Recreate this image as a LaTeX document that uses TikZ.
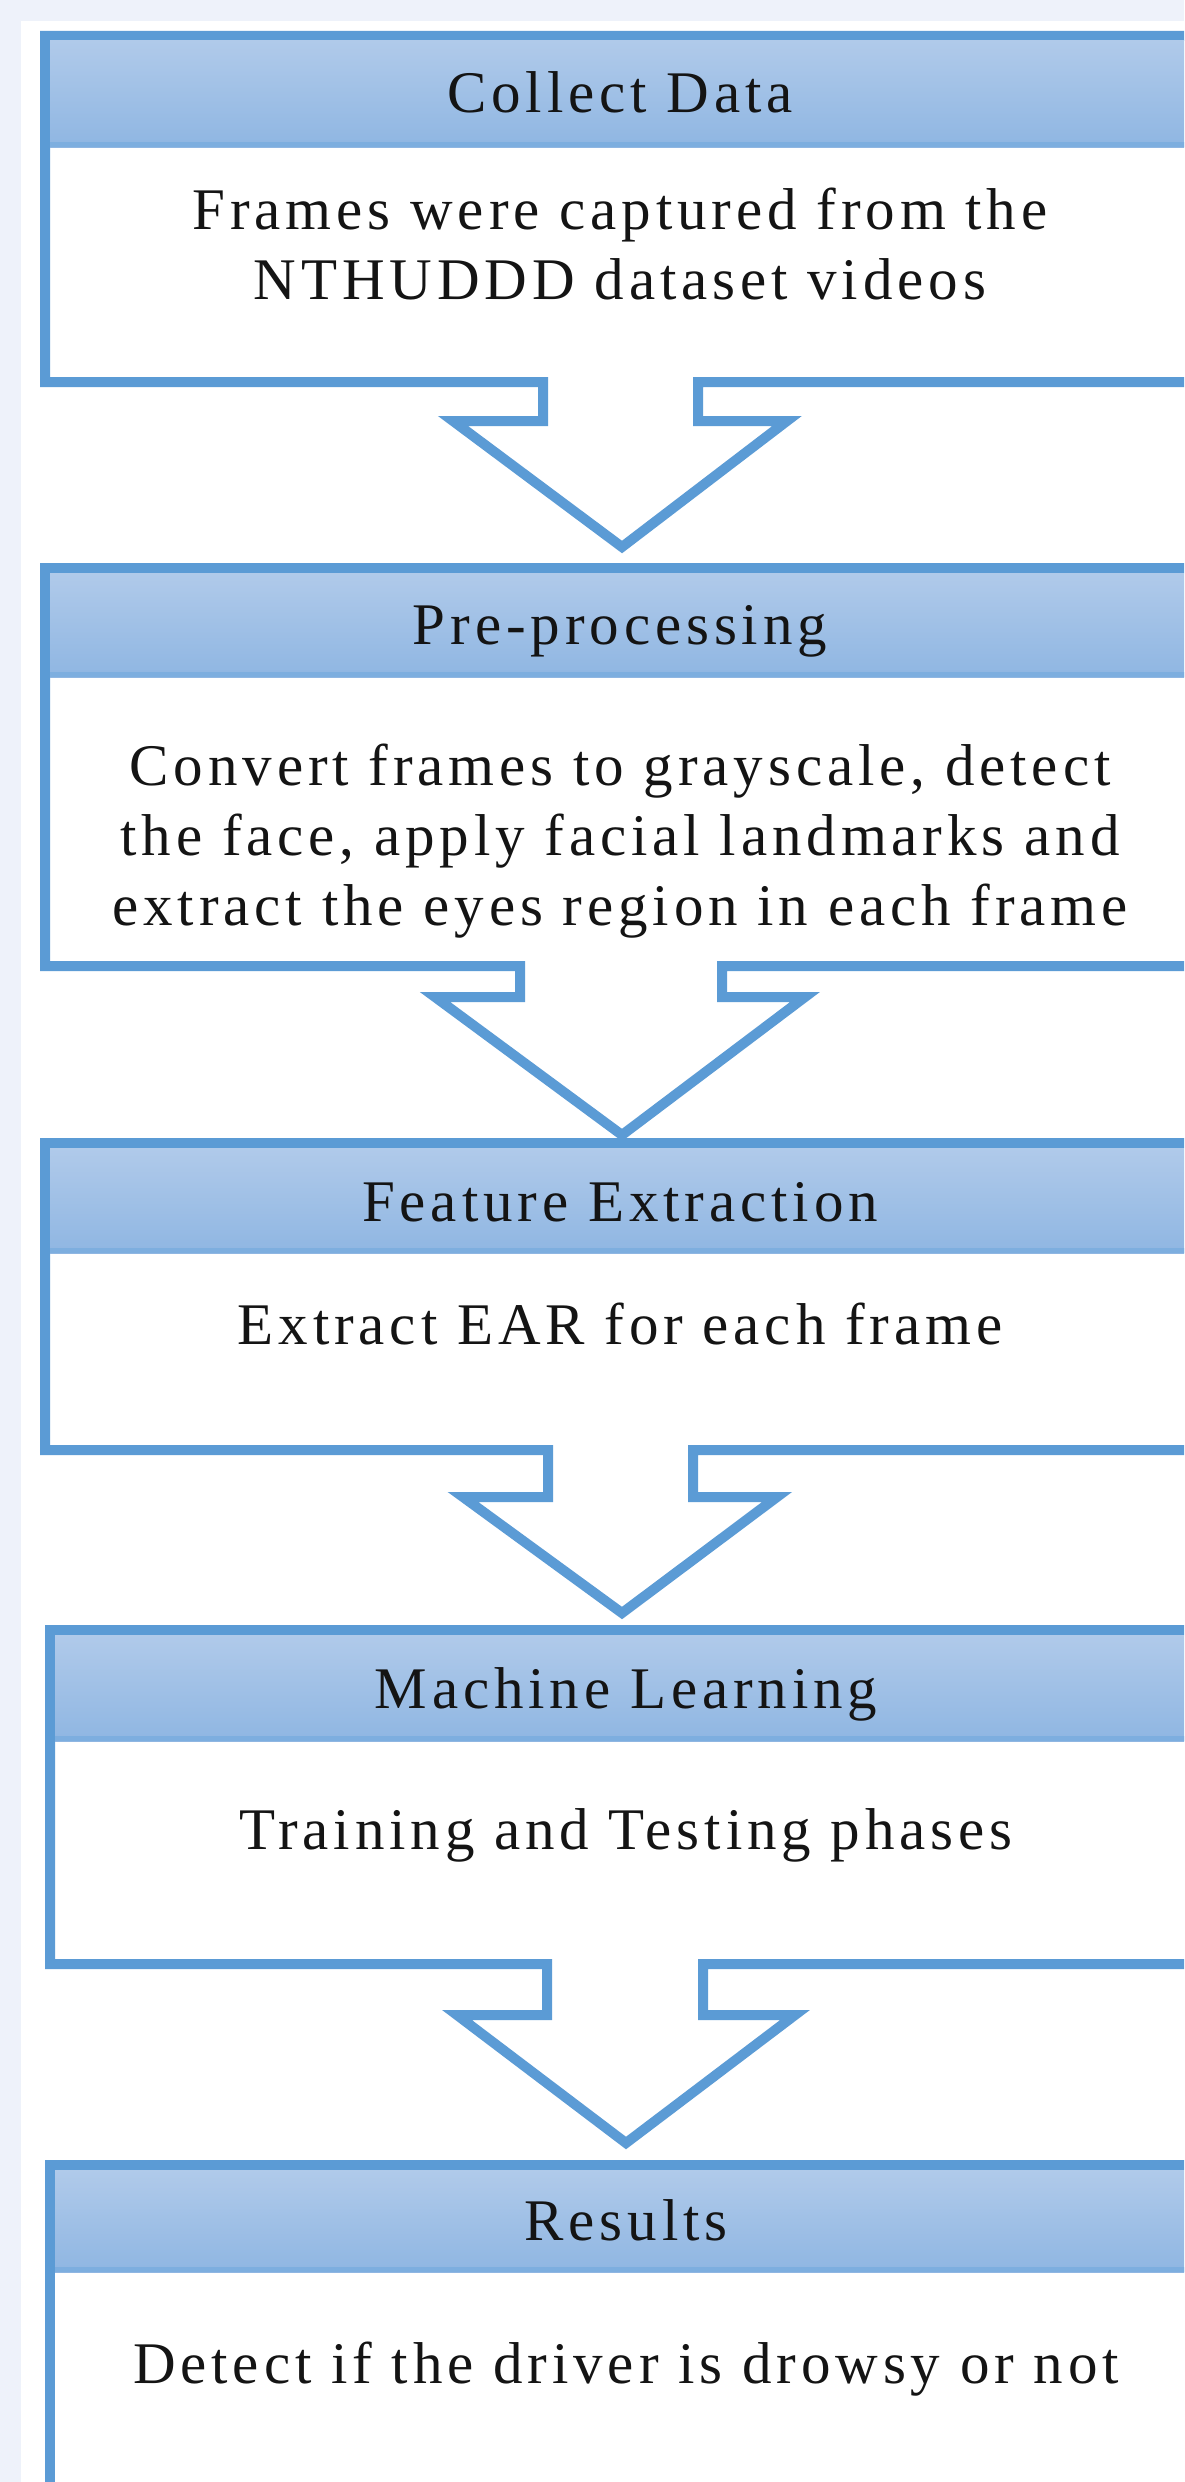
\documentclass[tikz,border=0pt]{standalone}
\usepackage{fontspec}
\newfontfamily\diagfont{Liberation Serif}[LetterSpace=8.3]
\definecolor{bgcol}{HTML}{EEF2FA}
\definecolor{bordercol}{HTML}{5B9BD5}
\definecolor{hdtop}{HTML}{B0CAEA}
\definecolor{hdbot}{HTML}{8FB6E2}
\definecolor{hdlinecol}{HTML}{7DAEDF}
\definecolor{txtcol}{HTML}{141414}
\tikzset{
  boxline/.style={draw=bordercol, line width=10bp, line join=miter, miter limit=10, fill=white},
  hdband/.style={top color=hdtop, bottom color=hdbot},
  hdline/.style={draw=hdlinecol, line width=5bp},
  lbl/.style={anchor=base, inner sep=0pt, outer sep=0pt, text=txtcol,
    font=\diagfont\fontsize{59bp}{70bp}\selectfont}
}
\begin{document}
\begin{tikzpicture}[x=1bp,y=-1bp]
\useasboundingbox (0,0) rectangle (1184,2482);
\clip (0,0) rectangle (1184,2482);
\fill[bgcol] (0,0) rectangle (1184,2482);
\fill[white] (21,21) rectangle (1200,2500);

% ---------- Box 1 : Collect Data ----------
\draw[boxline] (1230,36) -- (45,36) -- (45,382) -- (543,382) -- (543,421) -- (453,421)
  -- (622,547) -- (787,421) -- (698,421) -- (698,382) -- (1230,382);
\shade[hdband] (50,41) rectangle (1230,147);
\draw[hdline] (50,144.5) -- (1230,144.5);
\node[lbl] (h1) at (620,112) {Collect Data};
\node[lbl] (t11) at (620,229) {Frames were captured from the};
\node[lbl] (t12) at (620,299) {NTHUDDD dataset videos};

% ---------- Box 2 : Pre-processing ----------
\draw[boxline] (1230,568) -- (45,568) -- (45,966) -- (520,966) -- (520,997) -- (435,997)
  -- (622,1135) -- (805,997) -- (722,997) -- (722,966) -- (1230,966);
\shade[hdband] (50,573) rectangle (1230,677);
\draw[hdline] (50,674.5) -- (1230,674.5);
\node[lbl] (h2) at (620,644) {Pre-processing};
\node[lbl] (t21) at (620,785) {Convert frames to grayscale, detect};
\node[lbl] (t22) at (620,855) {the face, apply facial landmarks and};
\node[lbl] (t23) at (620,925) {extract the eyes region in each frame};

% ---------- Box 3 : Feature Extraction ----------
\draw[boxline] (1230,1143) -- (45,1143) -- (45,1450) -- (548,1450) -- (548,1497) -- (463,1497)
  -- (622,1613) -- (777,1497) -- (693,1497) -- (693,1450) -- (1230,1450);
\shade[hdband] (50,1148) rectangle (1230,1253);
\draw[hdline] (50,1250.5) -- (1230,1250.5);
\node[lbl] (h3) at (620,1221) {Feature Extraction};
\node[lbl] (t31) at (620,1344) {Extract EAR for each frame};

% ---------- Box 4 : Machine Learning ----------
\draw[boxline] (1230,1630) -- (50,1630) -- (50,1964) -- (547,1964) -- (547,2015) -- (457,2015)
  -- (626,2143) -- (795,2015) -- (703,2015) -- (703,1964) -- (1230,1964);
\shade[hdband] (55,1635) rectangle (1230,1741);
\draw[hdline] (55,1738.5) -- (1230,1738.5);
\node[lbl] (h4) at (626,1708) {Machine Learning};
\node[lbl] (t41) at (626,1849) {Training and Testing phases};

% ---------- Box 5 : Results ----------
\draw[boxline] (1230,2165) -- (50,2165) -- (50,2530) -- (1230,2530);
\shade[hdband] (55,2170) rectangle (1230,2272);
\draw[hdline] (55,2269.5) -- (1230,2269.5);
\node[lbl] (h5) at (626,2240) {Results};
\node[lbl] (t51) at (626,2383) {Detect if the driver is drowsy or not};
\end{tikzpicture}
\end{document}
